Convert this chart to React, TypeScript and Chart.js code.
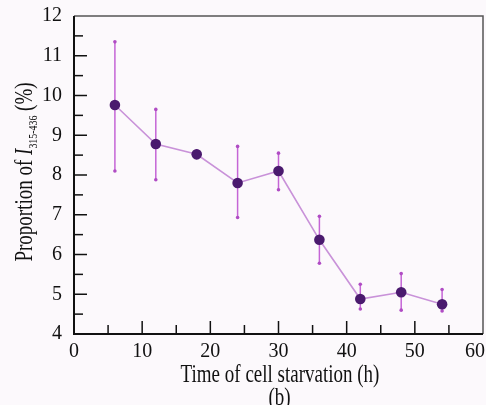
import React, { useEffect, useRef } from "react";
import { Chart, registerables } from "chart.js";

Chart.register(...registerables);

const hours = [6, 12, 18, 24, 30, 36, 42, 48, 54];
const proportion = [9.76, 8.78, 8.52, 7.8, 8.1, 6.37, 4.88, 5.05, 4.75];
const errUpper = [11.35, 9.65, 8.6, 8.72, 8.55, 6.96, 5.25, 5.52, 5.12];
const errLower = [8.1, 7.88, 8.44, 6.93, 7.63, 5.78, 4.63, 4.6, 4.58];
const xTicks = [0, 10, 20, 30, 40, 50, 60];
const yTicks = [4, 5, 6, 7, 8, 9, 10, 11, 12];

const FONT = "'Liberation Serif', 'DejaVu Serif', serif";

const decorPlugin = {
  id: "decor",
  beforeDraw(chart: any) {
    const { ctx, width, height } = chart;
    ctx.save();
    ctx.fillStyle = "#fcf9fc";
    ctx.fillRect(0, 0, width, height);
    ctx.restore();
  },
  afterDatasetsDraw(chart: any) {
    const { ctx } = chart;
    const xs = chart.scales.x;
    const ys = chart.scales.y;
    ctx.save();
    ctx.strokeStyle = "#c565d6";
    ctx.fillStyle = "#b04cc4";
    ctx.lineWidth = 1.5;
    hours.forEach((h, i) => {
      const px = xs.getPixelForValue(h);
      const yt = ys.getPixelForValue(errUpper[i]);
      const yb = ys.getPixelForValue(errLower[i]);
      ctx.beginPath();
      ctx.moveTo(px, yt);
      ctx.lineTo(px, yb);
      ctx.stroke();
      [yt, yb].forEach((yy) => {
        ctx.beginPath();
        ctx.arc(px, yy, 1.8, 0, Math.PI * 2);
        ctx.fill();
      });
    });
    ctx.fillStyle = "#4a1a6e";
    hours.forEach((h, i) => {
      ctx.beginPath();
      ctx.arc(xs.getPixelForValue(h), ys.getPixelForValue(proportion[i]), 5.3, 0, Math.PI * 2);
      ctx.fill();
    });
    ctx.restore();
  },
  afterDraw(chart: any) {
    const { ctx, chartArea, width } = chart;
    const { left, right, top, bottom } = chartArea;
    const xs = chart.scales.x;
    const ys = chart.scales.y;
    ctx.save();
    ctx.strokeStyle = "#555";
    ctx.lineWidth = 1.5;
    ctx.beginPath();
    ctx.moveTo(left, top);
    ctx.lineTo(right, top);
    ctx.lineTo(right, bottom);
    ctx.stroke();
    ctx.strokeStyle = "#111";
    ctx.lineWidth = 2;
    ctx.beginPath();
    ctx.moveTo(left, top);
    ctx.lineTo(left, bottom);
    ctx.lineTo(right, bottom);
    ctx.stroke();
    ctx.lineWidth = 1.5;
    for (let v = 4.5; v < 12; v += 0.5) {
      const py = ys.getPixelForValue(v);
      const len = Number.isInteger(v) ? 13 : 9;
      ctx.beginPath();
      ctx.moveTo(left, py);
      ctx.lineTo(left + len, py);
      ctx.stroke();
    }
    for (let v = 5; v < 60; v += 5) {
      const px = xs.getPixelForValue(v);
      const len = v % 10 === 0 ? 13 : 9;
      ctx.beginPath();
      ctx.moveTo(px, bottom);
      ctx.lineTo(px, bottom - len);
      ctx.stroke();
    }
    // x tick labels (kept inside the canvas)
    ctx.fillStyle = "#111";
    ctx.font = `20px ${FONT}`;
    ctx.textAlign = "center";
    ctx.textBaseline = "middle";
    xTicks.forEach((v) => {
      const label = String(v);
      const w = ctx.measureText(label).width;
      let px = xs.getPixelForValue(v);
      if (px + w / 2 > width - 1) px = width - 1 - w / 2;
      ctx.fillText(label, px, 352);
    });
    // x title (condensed serif)
    const SQ = 0.76;
    ctx.textBaseline = "alphabetic";
    ctx.font = `25px ${FONT}`;
    ctx.save();
    ctx.translate(280, 382);
    ctx.scale(SQ, 1);
    ctx.fillText("Time of cell starvation (h)", 0, 0);
    ctx.restore();
    ctx.save();
    ctx.translate(279.5, 405);
    ctx.scale(SQ, 1);
    ctx.fillText("(b)", 0, 0);
    ctx.restore();
    // y title with subscript
    ctx.save();
    ctx.translate(32, 172);
    ctx.rotate(-Math.PI / 2);
    ctx.scale(SQ, 1);
    const parts = [
      { t: "Proportion of ", f: `25px ${FONT}`, dy: 0 },
      { t: "I", f: `italic 25px ${FONT}`, dy: 0 },
      { t: "315-436", f: `13px ${FONT}`, dy: 5 },
      { t: " (%)", f: `25px ${FONT}`, dy: 0 },
    ];
    let total = 0;
    parts.forEach((p) => {
      ctx.font = p.f;
      total += ctx.measureText(p.t).width;
    });
    let x0 = -total / 2;
    ctx.textAlign = "left";
    parts.forEach((p) => {
      ctx.font = p.f;
      ctx.fillText(p.t, x0, p.dy);
      x0 += ctx.measureText(p.t).width;
    });
    ctx.restore();
    ctx.restore();
  },
};

export default function App() {
  const ref = useRef<HTMLCanvasElement>(null);
  useEffect(() => {
    document.body.style.margin = "0";
    const chart = new Chart(ref.current as HTMLCanvasElement, {
      type: "scatter",
      data: {
        datasets: [
          {
            data: hours.map((h, i) => ({ x: h, y: proportion[i] })),
            showLine: true,
            borderColor: "#c992d9",
            borderWidth: 1.6,
            pointRadius: 0,
            pointHoverRadius: 0,
            backgroundColor: "#4a1a6e",
          },
        ],
      },
      options: {
        animation: false,
        responsive: false,
        layout: { padding: { top: 16, right: 3, left: 0, bottom: 0 } },
        plugins: { legend: { display: false }, tooltip: { enabled: false } },
        scales: {
          x: {
            type: "linear",
            min: 0,
            max: 60,
            afterBuildTicks: (s: any) => {
              s.ticks = xTicks.map((v) => ({ value: v }));
            },
            afterFit: (s: any) => {
              s.height = 71;
              s.paddingLeft = 0;
              s.paddingRight = 0;
              s.paddingTop = 0;
              s.paddingBottom = 0;
            },
            grid: { display: false, drawTicks: false },
            border: { display: false },
            ticks: { display: false },
          },
          y: {
            type: "linear",
            min: 4,
            max: 12,
            afterBuildTicks: (s: any) => {
              s.ticks = yTicks.map((v) => ({ value: v }));
            },
            afterFit: (s: any) => {
              s.width = 74;
              s.paddingLeft = 0;
              s.paddingRight = 0;
              s.paddingTop = 0;
              s.paddingBottom = 0;
            },
            grid: { display: false, drawTicks: false },
            border: { display: false },
            ticks: {
              color: "#111",
              font: { family: FONT, size: 20 },
              padding: 12,
            },
          },
        },
      },
      plugins: [decorPlugin],
    } as any);
    return () => chart.destroy();
  }, []);
  return <canvas ref={ref} width={486} height={405} style={{ display: "block" }} />;
}
